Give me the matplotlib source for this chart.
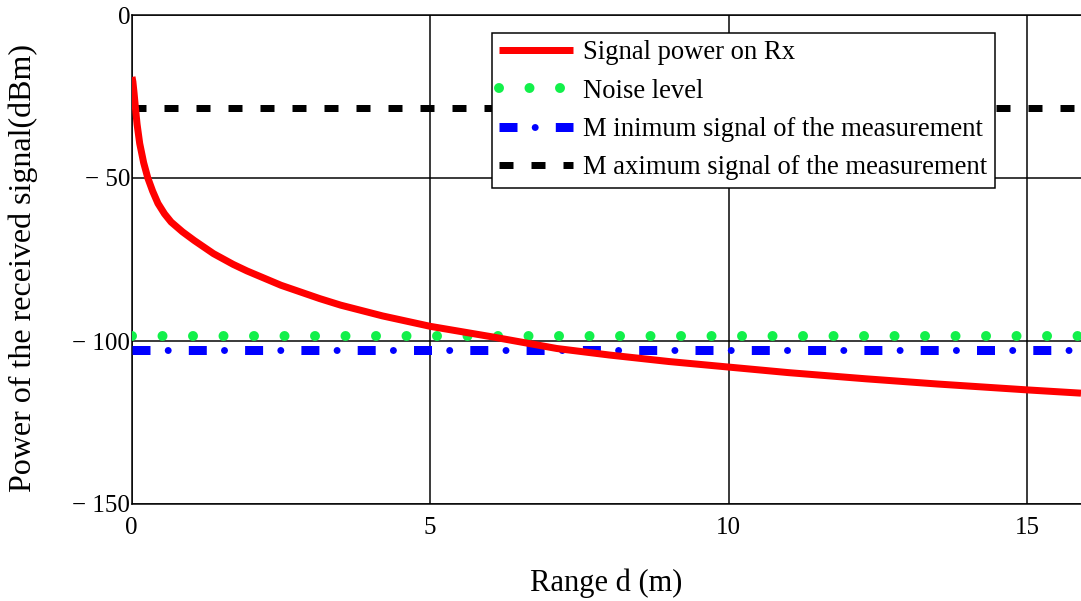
import matplotlib
matplotlib.use("Agg")
import matplotlib.pyplot as plt
from matplotlib.legend_handler import HandlerTuple

plt.rcParams['font.family'] = ['Liberation Serif', 'DejaVu Serif']
plt.rcParams['lines.scale_dashes'] = False
plt.rcParams['axes.unicode_minus'] = True

# ---- data ----
range_d = [0.005, 0.02, 0.04, 0.06, 0.09, 0.134, 0.2, 0.27, 0.35, 0.44, 0.55,
           0.66, 0.85, 1.05, 1.37, 1.7, 1.93, 2.5, 3.15, 3.5, 4.2, 5.0, 6.06,
           7.12, 8.0, 9.0, 10.0, 11.0, 12.3, 13.5, 15.0, 15.9]
signal_power = [-19, -20.5, -24, -28, -33.5, -39.4, -45.3, -50, -54, -57.8,
                -61, -63.5, -66.5, -69.2, -73.2, -76.5, -78.5, -82.9, -87,
                -89, -92.3, -95.5, -98.8, -102.3, -104.3, -106.3, -108,
                -109.7, -111.6, -113.2, -115, -116]
noise_level = -98.5
min_signal = -102.8
max_signal = -28.5
x_limits = [0, 15.9]
y_limits = [-150, 0]
x_ticks = [0, 5, 10, 15]
x_tick_labels = ["0", "5", "10", "15"]
y_ticks = [-150, -100, -50, 0]
y_tick_labels = ["\u2212 150", "\u2212 100", "\u2212 50", "0"]
legend_labels = ["Signal power on Rx", "Noise level",
                 "M inimum signal of the measurement",
                 "M aximum signal of the measurement"]

W, H = 1081, 601
fig = plt.figure(figsize=(W / 100, H / 100), dpi=100)
left, top, bottom = 131.7, 15, 504
ax = fig.add_axes([left / W, 1 - bottom / H, 1 - left / W, (bottom - top) / H])

px = 0.72  # points per pixel
tiny = 0.001

ax.grid(True, color='black', linewidth=1.5 * px)
ax.set_axisbelow(True)

xs = [x_limits[0], x_limits[1] + 1]
l_red, = ax.plot(range_d, signal_power, color='#ff0000', linewidth=7 * px,
                 solid_capstyle='butt', solid_joinstyle='round', zorder=5)
l_green, = ax.plot(xs, [noise_level] * 2, color='#12f04a', linewidth=10 * px,
                   dash_capstyle='round', linestyle=(0, (tiny, 30.5 * px)), zorder=4)
l_blue_d, = ax.plot(xs, [min_signal] * 2, color='#0000ff', linewidth=9 * px,
                    dash_capstyle='butt', linestyle=(0, (18 * px, 38.3 * px)), zorder=4)
l_blue_o, = ax.plot(xs, [min_signal] * 2, color='#0000ff', linewidth=7 * px,
                    dash_capstyle='round',
                    linestyle=(20.6 * px, (tiny, 56.3 * px)), zorder=4)
l_black, = ax.plot(xs, [max_signal] * 2, color='black', linewidth=7 * px,
                   dash_capstyle='butt', linestyle=(0, (14 * px, 18 * px)), zorder=4)

ax.set_xlim(*x_limits)
ax.set_ylim(*y_limits)
ax.set_xticks(x_ticks)
ax.set_xticklabels(x_tick_labels, fontsize=18)
ax.set_yticks(y_ticks)
ax.set_yticklabels(y_tick_labels, fontsize=18)
ax.tick_params(axis='both', length=0)
ax.tick_params(axis='y', pad=1)
ax.tick_params(axis='x', pad=9)
for s in ['left', 'bottom', 'top']:
    ax.spines[s].set_linewidth(1.5 * px)
ax.spines['right'].set_visible(False)

leg = ax.legend([l_red, l_green, (l_blue_d, l_blue_o), l_black], legend_labels,
                handler_map={tuple: HandlerTuple(ndivide=1)},
                loc='upper left', bbox_to_anchor=(492 / W, 1 - 33 / H),
                bbox_transform=fig.transFigure, borderaxespad=0,
                fontsize=19.2, frameon=True, fancybox=False, shadow=False,
                edgecolor='black', framealpha=1, handlelength=2.75,
                handletextpad=0.4, labelspacing=0.5, borderpad=0.28)
leg.get_frame().set_linewidth(1.5 * px)
leg.set_zorder(10)

fig.text(606 / W, 1 - 583 / H, "Range d (m)", ha='center', va='center', fontsize=22)
fig.text(23 / W, 1 - 268 / H, "Power of the received signal(dBm)", ha='center',
         va='center', rotation=90, fontsize=23)

fig.savefig("out.png", dpi=100)
